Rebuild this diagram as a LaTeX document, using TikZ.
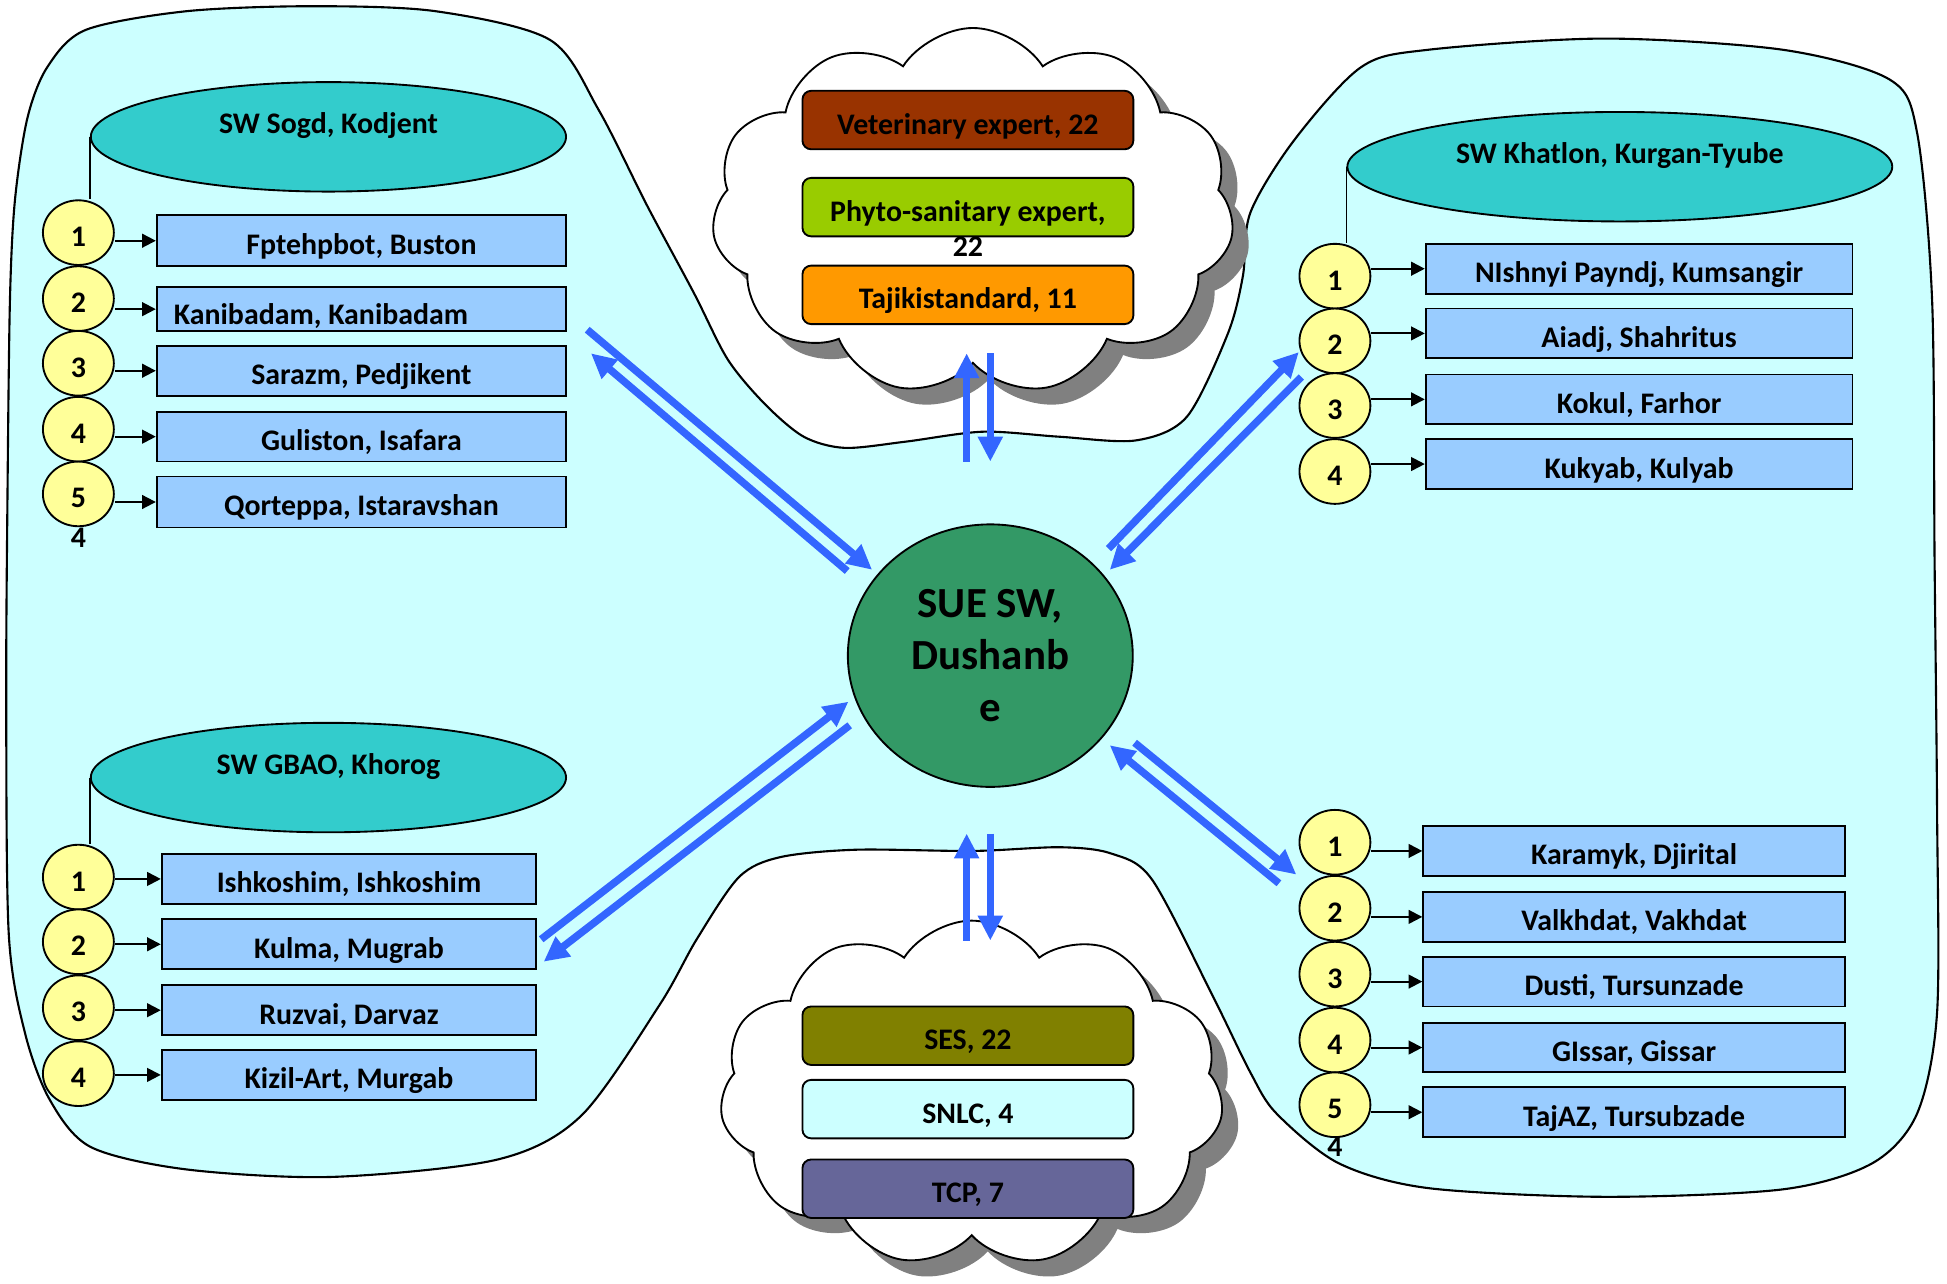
\documentclass[tikz,border=0pt]{standalone}
\usepackage{fontspec}
\setmainfont{Carlito}
\usetikzlibrary{arrows.meta,shapes.geometric,shapes.symbols,shadows}
\definecolor{bgcyan}{HTML}{CCFFFF}
\definecolor{elltea}{HTML}{33CCCC}
\definecolor{numyellow}{HTML}{FFFF99}
\definecolor{boxblue}{HTML}{99CCFF}
\definecolor{centergreen}{HTML}{339966}
\definecolor{arrowblue}{HTML}{3366FF}
\definecolor{vetbrown}{HTML}{993300}
\definecolor{phytogreen}{HTML}{99CC00}
\definecolor{tajorange}{HTML}{FF9900}
\definecolor{sesolive}{HTML}{808000}
\definecolor{tcpviolet}{HTML}{666699}
\definecolor{shadowgray}{HTML}{808080}
\newcommand\dgtxt{\fontsize{24}{28}\selectfont\bfseries}
\begin{document}
\begin{tikzpicture}[x=1pt,y=-1pt,
  sbox/.style={draw, line width=1.5pt, fill=boxblue, rectangle, minimum height=40pt,
    inner sep=0pt, font=\dgtxt, text height=24.5pt, text depth=2pt},
  num/.style={ellipse, draw, line width=1.5pt, fill=numyellow, minimum width=57pt,
    minimum height=52pt, inner sep=0pt, font=\dgtxt, text height=24.5pt, text depth=2pt},
  ell/.style={ellipse, draw, line width=1.5pt, fill=elltea, minimum height=88pt,
    inner sep=0pt, font=\dgtxt, text height=0pt, text depth=5pt},
  rbox/.style={draw, line width=1.5pt, rounded corners=7pt, minimum width=266pt,
    minimum height=47pt, inner sep=0pt, font=\dgtxt, text height=24.5pt, text depth=2pt},
  plain/.style={inner sep=0pt, font=\dgtxt},
  sarrow/.style={-{Triangle[length=11pt,width=11pt]}, line width=1.6pt},
  barrow/.style={-{Triangle[length=20pt,width=19pt]}, line width=6pt, color=arrowblue},
  cloudsty/.style={cloud, cloud puffs=11, cloud puff arc=115, cloud ignores aspect,
    draw, line width=1.5pt, fill=white,
    drop shadow={shadow xshift=13pt, shadow yshift=-13pt, fill=shadowgray, opacity=1}}
]
\useasboundingbox (0,0) rectangle (1565,1032);

% background region
\draw[fill=bgcyan, line width=1.7pt] plot[smooth cycle, tension=0.5] coordinates {
 (8,241) (12,161) (22,95) (38,54) (69,24) (150,9) (250,5) (350,9) (442,32) (481,88)
 (520,165) (558,236) (585,289) (615,325) (646,351) (679,360) (728,355) (790,347)
 (851,351) (913,354) (954,335) (987,268) (999,222) (1005,171) (1040,113) (1094,54)
 (1148,40) (1290,31) (1433,40) (1519,64) (1541,107) (1553,241) (1555,450) (1557,650)
 (1557,814) (1541,895) (1505,935) (1433,956) (1290,962) (1148,955) (1076,935)
 (1026,895) (1005,862) (975,801) (926,707) (893,686) (852,681) (782,684) (688,683)
 (627,689) (594,705) (560,755) (530,808) (467,897) (400,932) (267,946) (150,940)
 (73,922) (40,884) (20,830) (7,750) (5,560) (6,400)};

% clouds
\node[cloudsty, minimum width=420pt, minimum height=295pt] (tcloud) at (782,170) {};
\node[cloudsty, minimum width=405pt, minimum height=278pt] (bcloud) at (781,879) {};

% top cloud boxes
\node[rbox, fill=vetbrown] (vet) at (778,96.5) {Veterinary expert, 22};
\node[rbox, fill=phytogreen] (phy) at (778,166.5) {Phyto-sanitary expert,};
\node[plain] (phy22) at (778,198) {22};
\node[rbox, fill=tajorange] (taj) at (778,237) {Tajikistandard, 11};

% bottom cloud boxes
\node[rbox, fill=sesolive] (ses) at (778,832.5) {SES, 22};
\node[rbox, fill=bgcyan] (snlc) at (778,891.5) {SNLC, 4};
\node[rbox, fill=tcpviolet] (tcp) at (778,955.5) {TCP, 7};

% centre
\node[ellipse, draw, line width=1.5pt, fill=centergreen, minimum width=229pt,
  minimum height=211pt, inner sep=0pt, align=center,
  font=\fontsize{34.5}{42}\selectfont\bfseries] (ctr) at (796,527) {SUE SW,\\Dushanb\\e};

% ---- Sogd group
\node[ell, minimum width=382pt] (se) at (264,110) {SW Sogd, Kodjent};
\foreach \i/\y/\by/\h/\t in {1/187/193.5/41/{Fptehpbot, Buston},
    3/292/298/40/{Sarazm, Pedjikent},4/345/351/40/{Guliston, Isafara},
    5/397/403.5/41/{Qorteppa, Istaravshan}}{
  \node[num] (s\i) at (63,\y) {\i};
  \node[sbox, minimum width=329pt, minimum height=\h pt] (sb\i) at (290.5,\by) {\t};
}
\node[num] (s2) at (63,240) {2};
\node[sbox, minimum width=329pt, minimum height=35pt] (sb2) at (290.5,248.5) {};
\node[plain] (sb2t) at (258,254) {Kanibadam, Kanibadam};
\node[plain] (s5x) at (63,432) {4};
\foreach \i in {1,...,5}{\draw[sarrow] (sb\i.west -| s\i.east) -- (sb\i.west);}
\draw[line width=1.5pt] (se.west) -- (se.west |- s1.north);

% ---- Khatlon group
\node[ell, minimum width=438pt] (ke) at (1302,134) {SW Khatlon, Kurgan-Tyube};
\foreach \i/\y/\by/\t in {1/222/216/{NIshnyi Payndj, Kumsangir},2/274/268/{Aiadj, Shahritus},
    3/326/321/{Kokul, Farhor},4/379/373/{Kukyab, Kulyab}}{
  \node[num] (k\i) at (1073,\y) {\i};
  \node[sbox, minimum width=343pt] (kb\i) at (1317.5,\by) {\t};
  \draw[sarrow] (kb\i.west -| k\i.east) -- (kb\i.west);
}
\draw[line width=1.5pt] (ke.west) -- (ke.west |- k1.north);

% ---- GBAO group
\node[ell, minimum width=382pt] (ge) at (264,625) {SW GBAO, Khorog};
\foreach \i/\y/\by/\t in {1/705/706.5/{Ishkoshim, Ishkoshim},2/757/759/{Kulma, Mugrab},
    3/810/812/{Ruzvai, Darvaz},4/863/864/{Kizil-Art, Murgab}}{
  \node[num] (g\i) at (63,\y) {\i};
  \node[sbox, minimum width=301pt] (gb\i) at (280.5,\by) {\t};
  \draw[sarrow] (gb\i.west -| g\i.east) -- (gb\i.west);
}
\draw[line width=1.5pt] (ge.west) -- (ge.west |- g1.north);

% ---- lower right group
\foreach \i/\y/\by/\t in {1/677/684/{Karamyk, Djirital},2/730/737/{Valkhdat, Vakhdat},
    3/783/789/{Dusti, Tursunzade},4/836/842/{GIssar, Gissar},5/888/894/{TajAZ, Tursubzade}}{
  \node[num] (r\i) at (1073,\y) {\i};
  \node[sbox, minimum width=339pt] (rb\i) at (1313.5,\by) {\t};
  \draw[sarrow] (rb\i.west -| r\i.east) -- (rb\i.west);
}
\node[plain] (r5x) at (1073,922) {4};

% ---- blue exchange arrows
\coordinate (tu1) at (777,371); \coordinate (tu2) at (777,284);
\coordinate (td1) at (796,284); \coordinate (td2) at (796,371);
\coordinate (bu1) at (777,756); \coordinate (bu2) at (777,670);
\coordinate (bd1) at (796,670); \coordinate (bd2) at (796,756);
\draw[barrow] (tu1) -- (tu2);
\draw[barrow] (td1) -- (td2);
\draw[barrow] (bu1) -- (bu2);
\draw[barrow] (bd1) -- (bd2);

\coordinate (ula) at (472,265); \coordinate (ulb) at (701,458);
\coordinate (ulc) at (681,459); \coordinate (uld) at (475,284);
\draw[barrow] (ula) -- (ulb);
\draw[barrow] (ulc) -- (uld);

\coordinate (ura) at (891,441); \coordinate (urb) at (1044,283);
\coordinate (urc) at (1046,303); \coordinate (urd) at (892,458);
\draw[barrow] (ura) -- (urb);
\draw[barrow] (urc) -- (urd);

\coordinate (lla) at (435,755); \coordinate (llb) at (682,564);
\coordinate (llc) at (683,583); \coordinate (lld) at (437,773);
\draw[barrow] (lla) -- (llb);
\draw[barrow] (llc) -- (lld);

\coordinate (lra) at (912,597); \coordinate (lrb) at (1042,703);
\coordinate (lrc) at (1028,710); \coordinate (lrd) at (892,599);
\draw[barrow] (lra) -- (lrb);
\draw[barrow] (lrc) -- (lrd);
\end{tikzpicture}
\end{document}
